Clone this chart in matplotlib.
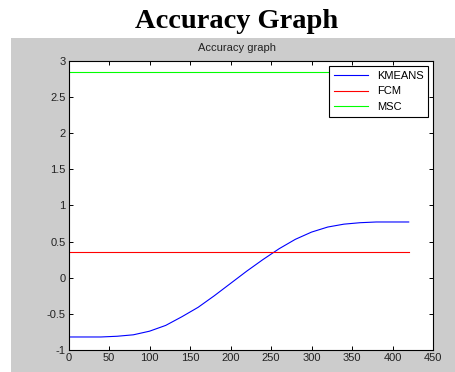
import matplotlib.pyplot as plt
from matplotlib.patches import Rectangle

# ---------------- DATA ----------------
x_vals = [0, 20, 40, 60, 80, 100, 120, 140, 160, 180, 200, 220,
          240, 260, 280, 300, 320, 340, 360, 380, 400, 420]
kmeans = [-0.82, -0.82, -0.82, -0.81, -0.79, -0.74, -0.66, -0.54, -0.41, -0.25, -0.08, 0.09,
          0.25, 0.40, 0.53, 0.63, 0.70, 0.74, 0.76, 0.77, 0.77, 0.77]
fcm_level = 0.355
msc_level = 2.85

x_ticks = [0, 50, 100, 150, 200, 250, 300, 350, 400, 450]
y_ticks = [-1, -0.5, 0, 0.5, 1, 1.5, 2, 2.5, 3]
y_labels = ["-1", "-0.5", "0", "0.5", "1", "1.5", "2", "2.5", "3"]

plt.rcParams["font.family"] = ["Liberation Sans", "DejaVu Sans"]

fig = plt.figure(figsize=(4.55, 3.72), dpi=100)
fig.patch.set_facecolor("white")

# grey MATLAB figure background
fig.patches.append(Rectangle((11 / 455, 0), 1 - 11 / 455, 334 / 372,
                             transform=fig.transFigure, facecolor="#cccccc",
                             edgecolor="none", zorder=-10))

fig.text(0.519, 0.942, "Accuracy Graph", ha="center", va="center",
         fontsize=20.5, fontweight="bold", family=["Liberation Serif", "DejaVu Serif"])

ax = fig.add_axes([68.5 / 455, 22 / 372, 364.5 / 455, 289.3 / 372])
ax.set_facecolor("white")

ax.plot(x_vals, kmeans, color="#0000ff", linewidth=0.8, label="KMEANS")
ax.plot([x_vals[0], x_vals[-1]], [fcm_level, fcm_level], color="#ff0000", linewidth=0.8, label="FCM")
ax.plot([x_vals[0], x_vals[-1]], [msc_level, msc_level], color="#00ff00", linewidth=0.8, label="MSC")

ax.set_xlim(0, 450)
ax.set_ylim(-1, 3)
ax.set_xticks(x_ticks)
ax.set_yticks(y_ticks)
ax.set_yticklabels(y_labels)
ax.tick_params(direction="in", length=3, width=0.7, top=True, right=True,
               labelsize=8, labelcolor="#222222", pad=2)
for s in ax.spines.values():
    s.set_linewidth(0.8)

fig.text(0.521, 0.872, "Accuracy graph", ha="center", va="center",
         fontsize=8, color="#222222")

leg = ax.legend(loc="upper right", bbox_to_anchor=(0.987, 0.982), borderaxespad=0,
                fancybox=False, edgecolor="black", framealpha=1, fontsize=8,
                handlelength=3, labelspacing=0.5, borderpad=0.45)
leg.get_frame().set_linewidth(0.8)

plt.savefig("out.png", dpi=100)
